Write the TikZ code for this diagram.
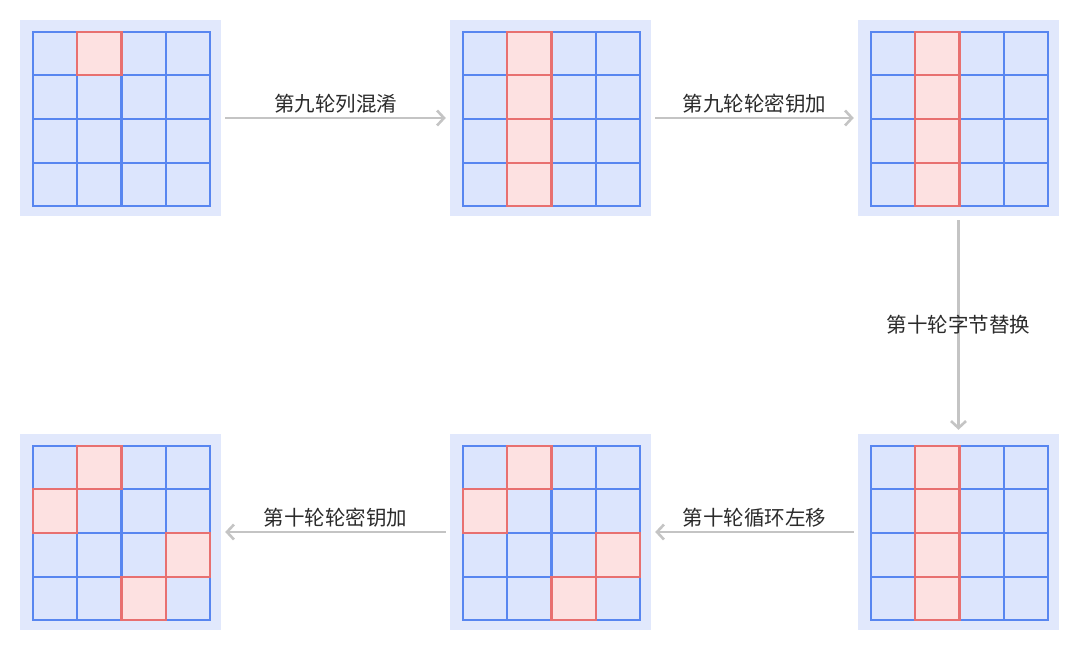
\documentclass[tikz,border=0pt]{standalone}
\usepackage{fontspec}
\setmainfont{Noto Sans CJK SC}
\usetikzlibrary{arrows.meta,calc,positioning}

\definecolor{panelbg}{HTML}{E1E8FC}
\definecolor{cellbg}{HTML}{DCE5FD}
\definecolor{cellline}{HTML}{5886F0}
\definecolor{hotbg}{HTML}{FDE1E1}
\definecolor{hotline}{HTML}{E87070}
\definecolor{flowgray}{HTML}{C4C4C4}
\definecolor{labelgray}{HTML}{2B2B2B}

% one 4x4 state matrix on top of its panel: #1 panel name, #2 highlighted row/col
\newcommand{\statemat}[2]{%
  \foreach \r in {0,...,3}
    \foreach \c in {0,...,3}
      \node[cell] at ($(#1.center)+(\c*44.2-65.3, \r*43.6-64.4)$) {};
  \foreach \r/\c in {#2}
    \node[cell, hot] at ($(#1.center)+(\c*44.2-65.3, \r*43.6-64.4)$) {};
}

\begin{document}
\begin{tikzpicture}[x=1pt, y=-1pt, >={Straight Barb[length=7pt, width=15pt]},
                    font=\fontsize{20.5}{22}\selectfont]
    \tikzstyle{panel}=[fill=panelbg, minimum width=201pt, minimum height=196pt,
                       inner sep=0pt]
    \tikzstyle{cell}=[draw=cellline, fill=cellbg, line width=2.1pt,
                      minimum width=44.2pt, minimum height=43.6pt, inner sep=0pt]
    \tikzstyle{hot}=[draw=hotline, fill=hotbg]
    \tikzstyle{flow}=[->, draw=flowgray, line width=2.6pt, shorten >=4pt,
                      shorten <=4pt]
    \tikzstyle{step label}=[text=labelgray, inner sep=3pt]

    \useasboundingbox (0,0) rectangle (1080,651);

    \node[panel] (s1) at (120.5,118) {};
    \node[panel] (s2) at (550.5,118) {};
    \node[panel] (s3) at (958.5,118) {};
    \node[panel] (s4) at (120.5,532) {};
    \node[panel] (s5) at (550.5,532) {};
    \node[panel] (s6) at (958.5,532) {};

    \statemat{s1}{0/1}
    \statemat{s2}{0/1, 1/1, 2/1, 3/1}
    \statemat{s3}{0/1, 1/1, 2/1, 3/1}
    \statemat{s6}{0/1, 1/1, 2/1, 3/1}
    \statemat{s5}{0/1, 1/0, 2/3, 3/2}
    \statemat{s4}{0/1, 1/0, 2/3, 3/2}

    \draw[flow] (s1) -- node[step label, above] {第九轮列混淆}   (s2);
    \draw[flow] (s2) -- node[step label, above] {第九轮轮密钥加} (s3);
    \draw[flow] (s3) -- node[step label]        {第十轮字节替换} (s6);
    \draw[flow] (s6) -- node[step label, above] {第十轮循环左移} (s5);
    \draw[flow] (s5) -- node[step label, above] {第十轮轮密钥加} (s4);
\end{tikzpicture}
\end{document}
